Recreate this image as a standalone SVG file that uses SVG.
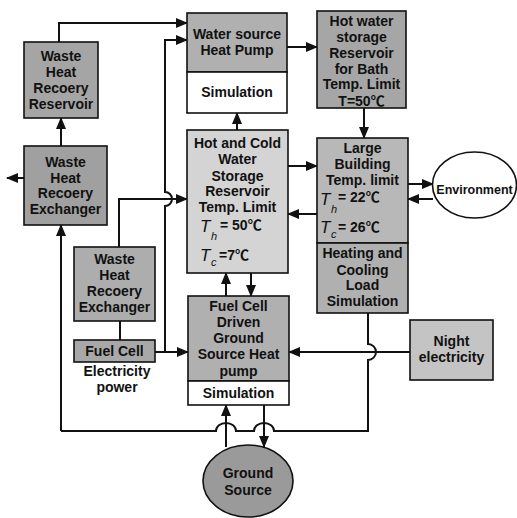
<svg xmlns="http://www.w3.org/2000/svg" width="517" height="518" viewBox="0 0 517 518">
<style>
.box{stroke:#111;stroke-width:1.6}
.wh{fill:#fff;stroke:#111;stroke-width:1.6}
.t{font-family:"Liberation Sans",Arial,"Noto Sans CJK SC",sans-serif;font-weight:bold;font-size:14px;text-anchor:middle;fill:#111}
.ts{font-family:"Liberation Sans",Arial,"Noto Sans CJK SC",sans-serif;font-weight:bold;font-size:14px;fill:#111}
.ti{font-family:"Liberation Sans",Arial,sans-serif;font-style:italic;font-size:17px;fill:#111}
.sub{font-family:"Liberation Sans",Arial,sans-serif;font-style:italic;font-size:11px;fill:#111}
.ln{fill:none;stroke:#111;stroke-width:2}
.arr{marker-end:url(#ah)}
</style>
<defs>
<marker id="ah" markerUnits="userSpaceOnUse" markerWidth="12" markerHeight="10" refX="11" refY="5" orient="auto">
<path d="M0,0 L12,5 L0,10 Z" fill="#111"/>
</marker>
</defs>
<g id="connectors">
<path class="ln arr" d="M59,42 V23 H187"/>
<path class="ln arr" d="M61,146 V118"/>
<path class="ln arr" d="M24,178 H7"/>
<path class="ln arr" d="M61,431 H216 a10,8 0 0 1 20,0 H254 a10,8 0 0 1 20,0 H368 V360 a8,8 0 0 0 0,-16 V313 M61,431 V225"/>
<path class="ln arr" d="M155,352 H188"/>
<path class="ln arr" d="M165,352 V206 a7,7 0 0 0 0,-14 V40 H187"/>
<path class="ln arr" d="M119,247 V199 H187"/>
<path class="ln arr" d="M237,130 V113"/>
<path class="ln arr" d="M287,47 H317"/>
<path class="ln arr" d="M364,108 V138"/>
<path class="ln arr" d="M288,166 H317"/>
<path class="ln arr" d="M317,214 H288"/>
<path class="ln arr" d="M408,184 H433"/>
<path class="ln arr" d="M433,199 H408"/>
<path class="ln arr" d="M226,296 V273"/>
<path class="ln arr" d="M251,273 V296"/>
<path class="ln arr" d="M410,352 H289"/>
<path class="ln arr" d="M226,447 V405"/>
<path class="ln arr" d="M264,405 V447"/>
<path class="ln" d="M120,321 V340"/>
</g>
<g id="whr-reservoir">
<rect class="box" x="24" y="42" width="74" height="76" fill="#a5a5a5"/>
<text class="t" x="61" y="61">Waste</text>
<text class="t" x="61" y="77">Heat</text>
<text class="t" x="61" y="93">Recoery</text>
<text class="t" x="61" y="109">Reservoir</text>
</g>
<g id="whr-exchanger-1">
<rect class="box" x="24" y="146" width="83" height="79" fill="#a0a0a0"/>
<text class="t" x="65.5" y="167">Waste</text>
<text class="t" x="65.5" y="183">Heat</text>
<text class="t" x="65.5" y="198">Recoery</text>
<text class="t" x="65.5" y="214">Exchanger</text>
</g>
<g id="wshp">
<rect class="box" x="187" y="13" width="100" height="59" fill="#b0b0b0"/>
<rect class="wh" x="187" y="72" width="100" height="41"/>
<text class="t" x="237" y="39">Water source</text>
<text class="t" x="237" y="55">Heat Pump</text>
<text class="t" x="237" y="97">Simulation</text>
</g>
<g id="hot-water">
<rect class="box" x="317" y="11" width="89" height="97" fill="#a6a6a6"/>
<text class="t" x="361.5" y="26">Hot water</text>
<text class="t" x="361.5" y="42">storage</text>
<text class="t" x="361.5" y="58">Reservoir</text>
<text class="t" x="361.5" y="74">for Bath</text>
<text class="t" x="361.5" y="89">Temp. Limit</text>
<text class="t" x="361.5" y="106">T=50℃</text>
</g>
<g id="hot-cold">
<rect class="box" x="187" y="130" width="101" height="143" fill="#d4d4d4"/>
<text class="t" x="237.5" y="148">Hot and Cold</text>
<text class="t" x="237.5" y="164">Water</text>
<text class="t" x="237.5" y="181">Storage</text>
<text class="t" x="237.5" y="196">Reservoir</text>
<text class="t" x="237.5" y="212">Temp. Limit</text>
<text class="ti" x="200" y="232">T</text>
<text class="sub" x="211" y="240">h</text>
<text class="ts" x="220" y="230">= 50℃</text>
<text class="ti" x="200" y="261">T</text>
<text class="sub" x="211" y="266">c</text>
<text class="ts" x="219" y="260">=7℃</text>
</g>
<g id="large-building">
<rect class="box" x="317" y="138" width="91" height="105" fill="#b8b8b8"/>
<text class="t" x="362.5" y="153">Large</text>
<text class="t" x="362.5" y="169">Building</text>
<text class="t" x="362.5" y="185">Temp. limit</text>
<text class="ti" x="320" y="205">T</text>
<text class="sub" x="331" y="213">h</text>
<text class="ts" x="338" y="202">= 22℃</text>
<text class="ti" x="320" y="233">T</text>
<text class="sub" x="331" y="238">c</text>
<text class="ts" x="338" y="232">= 26℃</text>
</g>
<g id="load-sim">
<rect class="box" x="317" y="243" width="91" height="70" fill="#b0b0b0"/>
<text class="t" x="362.5" y="258">Heating and</text>
<text class="t" x="362.5" y="275">Cooling</text>
<text class="t" x="362.5" y="290">Load</text>
<text class="t" x="362.5" y="306">Simulation</text>
</g>
<g id="environment">
<ellipse cx="474.5" cy="185" rx="42" ry="33" fill="#fff" stroke="#111" stroke-width="1.6"/>
<text class="t" x="474.5" y="194" style="font-size:12.5px">Environment</text>
</g>
<g id="whr-exchanger-2">
<rect class="box" x="74" y="247" width="81" height="74" fill="#adadad"/>
<text class="t" x="114.5" y="264">Waste</text>
<text class="t" x="114.5" y="280">Heat</text>
<text class="t" x="114.5" y="296">Recoery</text>
<text class="t" x="114.5" y="312">Exchanger</text>
</g>
<g id="fuel-cell">
<rect class="box" x="74" y="340" width="81" height="22" fill="#a8a8a8"/>
<text class="t" x="114.5" y="356">Fuel Cell</text>
<text class="t" x="117" y="376">Electricity</text>
<text class="t" x="117" y="392">power</text>
</g>
<g id="fc-gshp">
<rect class="box" x="188" y="296" width="101" height="85" fill="#b0b0b0"/>
<rect class="wh" x="188" y="381" width="101" height="24"/>
<text class="t" x="238.5" y="311">Fuel Cell</text>
<text class="t" x="238.5" y="327">Driven</text>
<text class="t" x="238.5" y="343">Ground</text>
<text class="t" x="238.5" y="359">Source Heat</text>
<text class="t" x="238.5" y="376">pump</text>
<text class="t" x="238.5" y="398">Simulation</text>
</g>
<g id="night">
<rect class="box" x="410" y="320" width="83" height="60" fill="#c4c4c4"/>
<text class="t" x="451.5" y="346">Night</text>
<text class="t" x="451.5" y="362">electricity</text>
</g>
<g id="ground">
<ellipse cx="248" cy="481" rx="45" ry="36" fill="#9a9a9a" stroke="#111" stroke-width="1.6"/>
<text class="t" x="248" y="478">Ground</text>
<text class="t" x="248" y="495">Source</text>
</g>
</svg>
